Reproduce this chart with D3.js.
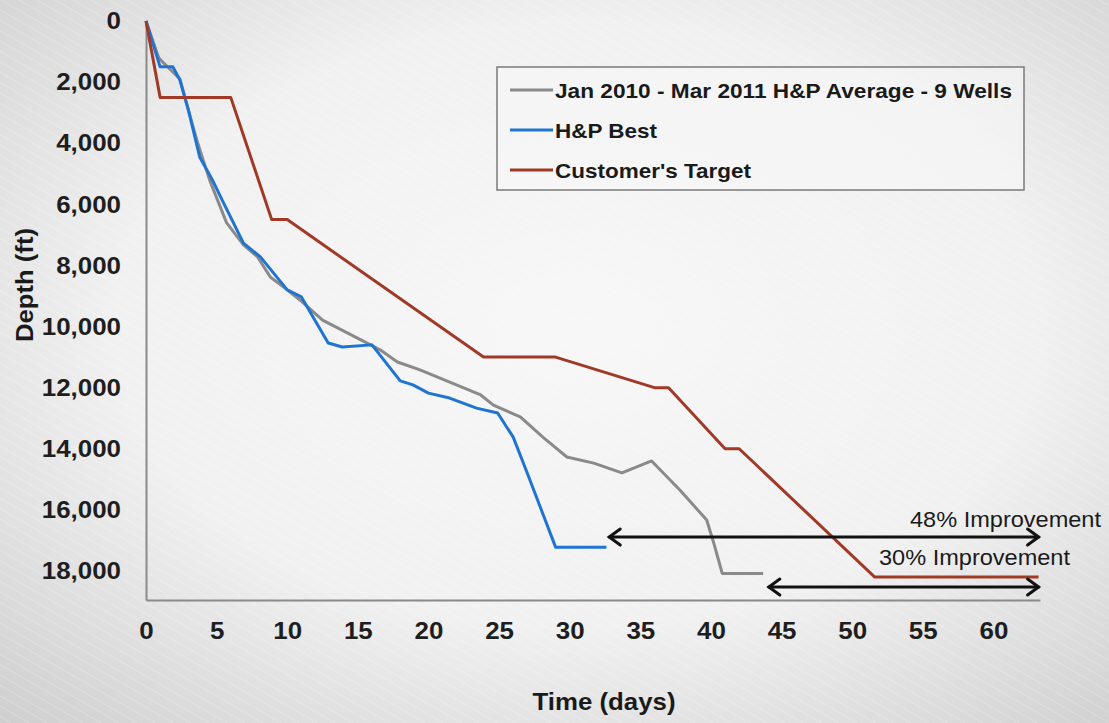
<!DOCTYPE html>
<html>
<head>
<meta charset="utf-8">
<script src="https://cdn.jsdelivr.net/npm/d3@7"></script>
<style>
  html, body { margin: 0; padding: 0; background: #e9e9e9; }
  svg { display: block; font-family: "Liberation Sans", Arial, sans-serif; }
</style>
</head>
<body>
<svg id="chart" width="1109" height="723"></svg>
<script>
// ---- data ----
const xTicks = [0, 5, 10, 15, 20, 25, 30, 35, 40, 45, 50, 55, 60];
const yTicks = [0, 2000, 4000, 6000, 8000, 10000, 12000, 14000, 16000, 18000];

const seriesNames = ["Jan 2010 - Mar 2011 H&P Average - 9 Wells", "H&P Best", "Customer's Target"];

const averageDays  = [0, 0.9, 1.2, 2.4, 2.75, 3.6, 4.5, 5.7, 6.9, 7.9, 8.8, 10, 10.9, 12.5, 15.9, 16.6, 17.8, 19.4, 23.7, 24.6, 26.5, 28.1, 29.8, 31.7, 33.7, 35.8, 37.8, 39.7, 40.2, 40.8, 43.7];
const averageDepth = [0, 1200, 1350, 1900, 2500, 3900, 5200, 6600, 7330, 7720, 8380, 8800, 9130, 9790, 10600, 10770, 11160, 11420, 12240, 12570, 12960, 13620, 14270, 14470, 14790, 14400, 15350, 16330, 17085, 18080, 18080];

const bestDays  = [0, 1.0, 1.9, 2.4, 3.0, 3.8, 4.7, 5.5, 6.9, 8.1, 10, 11.0, 12.9, 13.9, 16, 18, 18.9, 20, 21.5, 23.4, 24.9, 26, 27, 29, 32.6];
const bestDepth = [0, 1500, 1500, 1930, 2910, 4450, 5200, 5960, 7270, 7720, 8800, 9030, 10540, 10670, 10600, 11780, 11910, 12180, 12340, 12670, 12830, 13620, 14800, 17220, 17220];

const targetDays  = [0, 1.0, 6.0, 8.9, 10.0, 23.9, 29.0, 36.0, 37.0, 41.0, 42.0, 51.6, 63.2];
const targetDepth = [0, 2500, 2500, 6500, 6500, 11000, 11000, 12000, 12000, 14000, 14000, 18200, 18200];

const arrowLabels = ["48% Improvement", "30% Improvement"];
const arrowStart  = [32.8, 44.1];
const arrowEnd    = [63.2, 63.2];
const arrowDepth  = [16890, 18525];

// ---- styles ----
const colors = ["#8a8a8a", "#1f74d1", "#a03a27"];
const W = 1109, H = 723;
const svg = d3.select("#chart");

// background
const defs = svg.append("defs");
const grad = defs.append("radialGradient").attr("id", "bg").attr("cx", "52%").attr("cy", "45%").attr("r", "75%");
grad.append("stop").attr("offset", "0%").attr("stop-color", "#f7f7f7");
grad.append("stop").attr("offset", "55%").attr("stop-color", "#f1f1f1");
grad.append("stop").attr("offset", "100%").attr("stop-color", "#cfcfcf");
svg.append("rect").attr("width", W).attr("height", H).attr("fill", "url(#bg)");

// subtle brushed texture
const pat = defs.append("pattern").attr("id", "brush").attr("width", 9).attr("height", 9)
  .attr("patternUnits", "userSpaceOnUse").attr("patternTransform", "rotate(-60)");
pat.append("line").attr("x1", 0).attr("y1", 0).attr("x2", 0).attr("y2", 9)
  .attr("stroke", "#ffffff").attr("stroke-width", 1.2).attr("opacity", 0.35);
svg.append("rect").attr("width", W).attr("height", H).attr("fill", "url(#brush)");

// scales
const x = d3.scaleLinear().domain([0, 63.3]).range([146, 1040]);
const y = d3.scaleLinear().domain([0, 18950]).range([21, 600]);

function stretch(sel, k) {
  sel.each(function () {
    const len = this.getComputedTextLength();
    d3.select(this).attr("textLength", len * k).attr("lengthAdjust", "spacingAndGlyphs");
  });
}

// axes
const xAxis = svg.append("g").attr("transform", `translate(0,${y.range()[1]})`)
  .call(d3.axisBottom(x).tickValues(xTicks).tickSize(0).tickPadding(22).tickFormat(d3.format("d")));
xAxis.select(".domain").attr("stroke", "#8a8a8a").attr("stroke-width", 2);
xAxis.selectAll("text").attr("font-size", 24).attr("font-weight", "bold").attr("fill", "#1e1e1e")
  .attr("font-family", "Liberation Sans, Arial, sans-serif");
stretch(xAxis.selectAll("text"), 1.08);

const yAxis = svg.append("g").attr("transform", `translate(${x.range()[0]},0)`)
  .call(d3.axisLeft(y).tickValues(yTicks).tickSize(0).tickPadding(25).tickFormat(d3.format(",")));
yAxis.select(".domain").attr("stroke", "#8a8a8a").attr("stroke-width", 2);
yAxis.selectAll("text").attr("font-size", 24).attr("font-weight", "bold").attr("fill", "#1e1e1e")
  .attr("font-family", "Liberation Sans, Arial, sans-serif");
stretch(yAxis.selectAll("text"), 1.08);

// lines
const series = [
  { days: averageDays, depth: averageDepth },
  { days: bestDays, depth: bestDepth },
  { days: targetDays, depth: targetDepth }
];
const line = d3.line().x(d => x(d[0])).y(d => y(d[1]));
series.forEach((s, i) => {
  const pts = s.days.map((d, j) => [d, s.depth[j]]);
  svg.append("path").datum(pts).attr("d", line)
    .attr("fill", "none").attr("stroke", colors[i]).attr("stroke-width", 3)
    .attr("stroke-linejoin", "round");
});

// arrows
arrowLabels.forEach((lab, i) => {
  const y0 = y(arrowDepth[i]);
  const xa = x(arrowStart[i]), xb = x(arrowEnd[i]);
  const g = svg.append("g").attr("stroke", "#111").attr("stroke-width", 3).attr("fill", "none")
    .attr("stroke-linecap", "round").attr("stroke-linejoin", "miter");
  g.append("line").attr("x1", xa).attr("y1", y0).attr("x2", xb).attr("y2", y0);
  g.append("path").attr("d", `M${xa + 11},${y0 - 8} L${xa},${y0} L${xa + 11},${y0 + 8}`);
  g.append("path").attr("d", `M${xb - 11},${y0 - 8} L${xb},${y0} L${xb - 11},${y0 + 8}`);
});
const annRight = [1101, 1070];
const annBase = [527, 565];
arrowLabels.forEach((lab, i) => {
  svg.append("text").attr("x", annRight[i]).attr("y", annBase[i]).attr("text-anchor", "end")
    .attr("font-size", 22).attr("fill", "#1a1a1a").attr("textLength", 191)
    .attr("lengthAdjust", "spacingAndGlyphs").text(lab);
});

// legend
const lg = svg.append("g");
lg.append("rect").attr("x", 497).attr("y", 67).attr("width", 527).attr("height", 123)
  .attr("fill", "#f6f6f6").attr("fill-opacity", 0.6).attr("stroke", "#7a7a7a").attr("stroke-width", 1.5);
const rowY = [90, 130, 170];
const textLens = [457, null, null];
seriesNames.forEach((name, i) => {
  lg.append("line").attr("x1", 510).attr("x2", 553).attr("y1", rowY[i]).attr("y2", rowY[i])
    .attr("stroke", colors[i]).attr("stroke-width", 3);
  const t = lg.append("text").attr("x", 555).attr("y", rowY[i]).attr("dy", "0.36em")
    .attr("font-size", 21).attr("font-weight", "bold").attr("fill", "#1a1a1a").text(name);
  if (textLens[i]) t.attr("textLength", textLens[i]).attr("lengthAdjust", "spacingAndGlyphs");
  else stretch(t, 1.07);
});

// axis titles
svg.append("text").attr("x", 604).attr("y", 710).attr("text-anchor", "middle")
  .attr("font-size", 24).attr("font-weight", "bold").attr("fill", "#1a1a1a")
  .attr("textLength", 143).attr("lengthAdjust", "spacingAndGlyphs").text("Time (days)");
svg.append("text").attr("transform", "translate(33,285) rotate(-90)").attr("text-anchor", "middle")
  .attr("font-size", 24).attr("font-weight", "bold").attr("fill", "#1a1a1a")
  .attr("textLength", 114).attr("lengthAdjust", "spacingAndGlyphs").text("Depth (ft)");
</script>
</body>
</html>
